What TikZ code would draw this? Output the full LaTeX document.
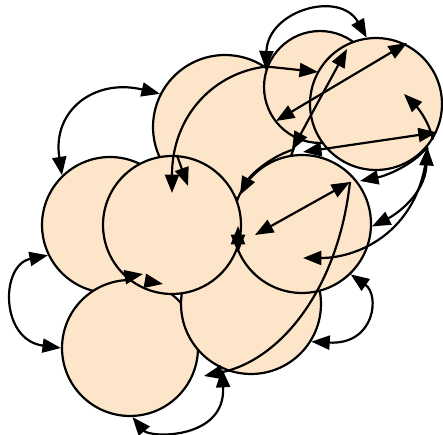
\documentclass[tikz,border=0pt]{standalone}
\usepackage{tikz}
\usetikzlibrary{arrows.meta}
\definecolor{bubpeach}{RGB}{253,229,201}
\newcommand{\bubble}[4]{%
  \node[bubble,minimum size=#4*0.04cm] (#1) at (#2,#3) {};
}
\begin{document}
\begin{tikzpicture}[x=.02cm,y=-.02cm,line width=1.25pt,
    >={Triangle[length=10.5pt,width=8pt]},
    bubble/.style={circle,draw=black,fill=bubpeach,inner sep=0pt}]
  \useasboundingbox (0,0) rectangle (443,435);
  \bubble{L}{110}{225}{68}
  \bubble{BL}{130}{348}{68}
  \bubble{C}{225}{127}{72}
  \bubble{BM}{251}{304}{70}
  \bubble{TRa}{320}{87}{56}
  \bubble{TRb}{376}{104}{66}
  \bubble{R}{302}{224}{69}
  \bubble{M}{172}{225}{69}
  % inner points
  \coordinate (hub) at (292,150);
  \coordinate (hubR) at (303,152);
  \coordinate (mTop) at (172,193);
  \coordinate (mTopB) at (188,186);
  \coordinate (mRight) at (240,195);
  \coordinate (lmA) at (238,226);
  \coordinate (lmB) at (238,253);
  \coordinate (blA) at (126,277);
  \coordinate (blB) at (143,274);
  \coordinate (blC) at (146,281);
  \coordinate (blD) at (163,284);
  \coordinate (cIn) at (276,121);
  \coordinate (taIn) at (318,72);
  \coordinate (tbUp) at (407,43);
  \coordinate (tbTop) at (347,49);
  \coordinate (tbIn) at (404,94);
  \coordinate (rUp) at (350,182);
  \coordinate (rLeft) at (255,235);
  \coordinate (rIn) at (303,258);
  \coordinate (rTop) at (360,181);
  \coordinate (bJoin) at (204,376);
  % outside arcs
  \draw[<->] (L.134) .. controls (52,110) and (95,78) .. (C.153);
  \draw[<->] (L.206) .. controls (0,265) and (0,340) .. (BL.180);
  \draw[<->] (BL.272) .. controls (150,438) and (226,440) .. (BM.246);
  \draw[<->] (R.-46) .. controls (380,295) and (375,345) .. (BM.-32);
  \draw[<->] (TRa.162) .. controls (268,10) and (340,-10) .. (TRb.98);
  % arrows across the bubbles
  \draw[->] (TRa.159) -- (taIn);
  \draw[->] (TRa.159) .. controls (215,72) and (172,115) .. (mTop);
  \draw[->] (M.86) -- (mTopB);
  \draw[<->] (cIn) -- (tbUp);
  \draw[<->] (hub) -- (tbTop);
  \draw[<->] (hubR) -- (TRb.-25);
  \draw[->] (TRb.-32) .. controls (428,118) and (415,105) .. (tbIn);
  \draw[<->] (TRb.-40) .. controls (425,195) and (395,215) .. (R.-2);
  \draw[->] (TRb.-40) .. controls (422,230) and (360,258) .. (rIn);
  \draw[->] (TRb.-40) .. controls (412,166) and (385,176) .. (rTop);
  \draw[<->] (rLeft) -- (rUp);
  \draw[->] (rUp) .. controls (338,290) and (280,360) .. (bJoin);
  \draw[->] (hub) .. controls (268,158) and (250,176) .. (mRight);
  \draw[<->] (lmA) -- (lmB);
  \draw[->] (blA) -- (blB);
  \draw[->] (blC) -- (blD);
\end{tikzpicture}
\end{document}
